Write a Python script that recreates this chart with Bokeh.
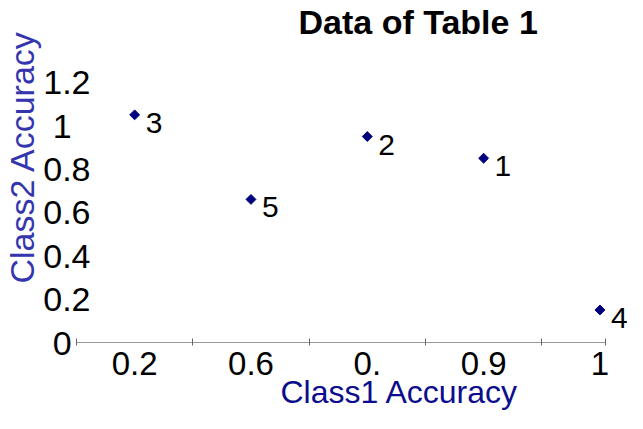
from bokeh.plotting import figure
from bokeh.models import Range1d, FixedTicker, Title, ColumnDataSource
from bokeh.embed import file_html
from bokeh.resources import INLINE
from bokeh.core.properties import value

# ---- data ----
categories = ["0.2", "0.6", "0.", "0.9", "1"]          # x tick labels (category axis)
class2_accuracy = [1.05, 0.66, 0.95, 0.85, 0.15]        # y value of each point
point_labels = ["3", "5", "2", "1", "4"]                # label next to each point
y_ticks = [0, 0.2, 0.4, 0.6, 0.8, 1.0, 1.2]
y_tick_labels = ["0", "0.2", "0.4", "0.6", "0.8", "1", "1.2"]

FONT = "Liberation Sans"
FIG_SP = "\u2007"   # figure space: keeps short labels visually centred like the reference
x_pos = list(range(1, len(categories) + 1))
src = ColumnDataSource(dict(x=x_pos, y=class2_accuracy, lab=point_labels))

# frame: left 76, top 38, bottom 342 (413 - 71), right = canvas edge
p = figure(width=627, height=413, output_backend="svg", toolbar_location=None,
           x_range=Range1d(0.5, 5.237), y_range=Range1d(0, 1.393),
           min_border_left=76, min_border_right=0, min_border_top=38,
           min_border_bottom=71)
p.outline_line_color = None
p.grid.visible = False
p.background_fill_color = "white"
p.border_fill_color = "white"

# x axis (category style)
xa = p.xaxis[0]
xa.ticker = FixedTicker(ticks=x_pos,
                        minor_ticks=[i - 0.5 for i in x_pos] + [x_pos[-1] + 0.05])
xa.major_label_overrides = {i: c for i, c in zip(x_pos, categories)}
xa.bounds = (0.5, x_pos[-1] + 0.05)
xa.axis_line_color = "#9a9a9a"
xa.axis_line_width = 1.2
xa.major_tick_in = 0
xa.major_tick_out = 0
xa.minor_tick_in = 4
xa.minor_tick_out = 3
xa.minor_tick_line_color = "#666666"
xa.major_label_text_font = FONT
xa.major_label_text_font_size = "33px"
xa.major_label_text_color = "black"
xa.major_label_standoff = 6

# y axis
ya = p.yaxis[0]
ya.ticker = FixedTicker(ticks=y_ticks)
ya.major_label_overrides = {t: (s + FIG_SP if len(s) == 1 else s)
                            for t, s in zip(y_ticks, y_tick_labels)}
ya.axis_line_color = None
ya.major_tick_line_color = None
ya.minor_tick_line_color = None
ya.major_tick_out = 0
ya.major_tick_in = 0
ya.major_label_text_font = FONT
ya.major_label_text_font_size = "34px"
ya.major_label_text_color = "black"
ya.major_label_standoff = -14

# titles
p.add_layout(Title(text="Data of Table 1", align="left", offset=222,
                   text_font=FONT, text_font_size="34px", text_font_style="bold",
                   text_color="black", standoff=0), "above")
p.add_layout(Title(text="Class2 Accuracy", align="left", offset=59,
                   text_font=FONT, text_font_size="34px", text_font_style="normal",
                   text_color="#3535ae", standoff=0), "left")
p.add_layout(Title(text="Class1 Accuracy", align="left", offset=204,
                   text_font=FONT, text_font_size="32px", text_font_style="normal",
                   text_color="#0c0c8c", standoff=-11), "below")

# points and labels
p.scatter("x", "y", source=src, marker="square", angle=0.785398, size=7,
          fill_color="#00007f", line_color="#00007f")
p.text("x", "y", text="lab", source=src, x_offset=11, y_offset=8,
       text_baseline="middle", text_align="left",
       text_font=value(FONT), text_font_size="30px", text_color="black")

open("out.html", "w").write(file_html(p, INLINE))
